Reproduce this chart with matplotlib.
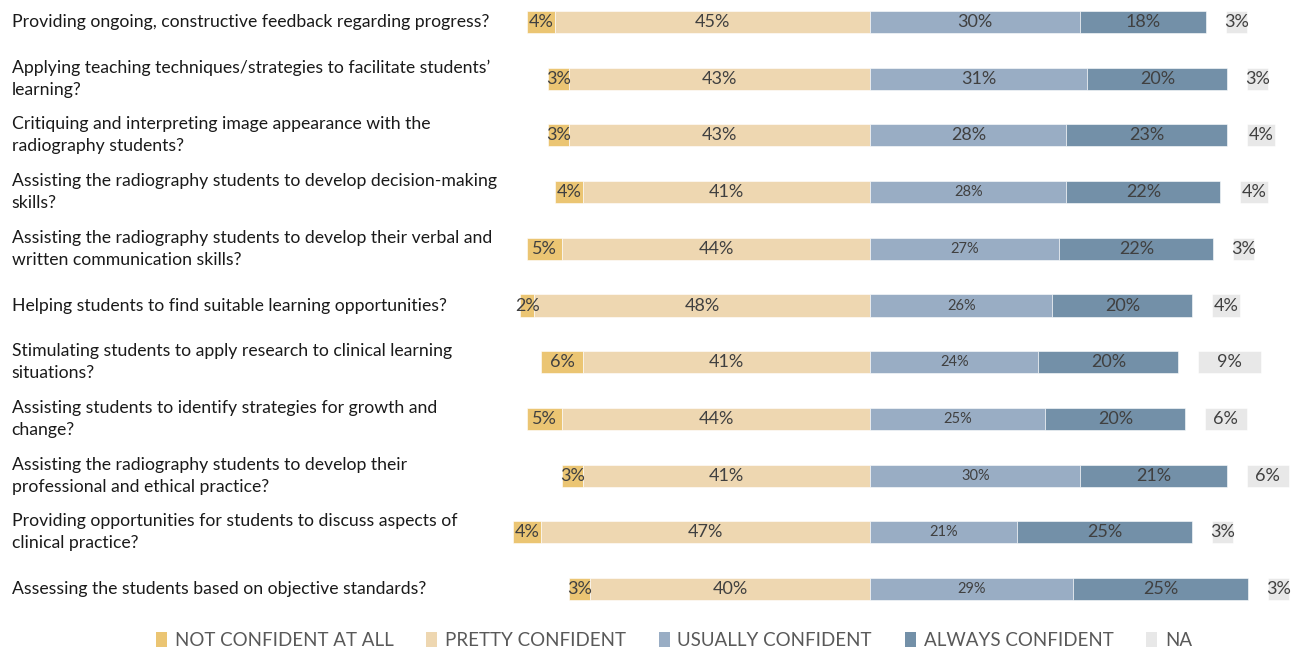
import matplotlib.pyplot as plt
import matplotlib.transforms as mtransforms
from matplotlib.patches import Patch

plt.rcParams['font.family'] = ['Lato', 'DejaVu Sans']

# survey items, top to bottom
questions = [
    "Providing ongoing, constructive feedback regarding progress?",
    "Applying teaching techniques/strategies to facilitate students\u2019\nlearning?",
    "Critiquing and interpreting image appearance with the\nradiography students?",
    "Assisting the radiography students to develop decision-making\nskills?",
    "Assisting the radiography students to develop their verbal and\nwritten communication skills?",
    "Helping students to find suitable learning opportunities?",
    "Stimulating students to apply research to clinical learning\nsituations?",
    "Assisting students to identify strategies for growth and\nchange?",
    "Assisting the radiography students to develop their\nprofessional and ethical practice?",
    "Providing opportunities for students to discuss aspects of\nclinical practice?",
    "Assessing the students based on objective standards?",
]

not_confident = [4, 3, 3, 4, 5, 2, 6, 5, 3, 4, 3]
pretty_confident = [45, 43, 43, 41, 44, 48, 41, 44, 41, 47, 40]
usually_confident = [30, 31, 28, 28, 27, 26, 24, 25, 30, 21, 29]
always_confident = [18, 20, 23, 22, 22, 20, 20, 20, 21, 25, 25]
na = [3, 3, 4, 4, 3, 4, 9, 6, 6, 3, 3]

legend_labels = ["NOT CONFIDENT AT ALL", "PRETTY CONFIDENT", "USUALLY CONFIDENT",
                 "ALWAYS CONFIDENT", "NA"]
colors = ["#EBC573", "#EED7B1", "#99ADC4", "#7390A8", "#E8E8E8"]

# the "usually" labels are smaller from row 4 down in the original
usually_fs = [13, 13, 13, 10.5, 10.5, 10.5, 10.5, 10.5, 10.5, 10.5, 10.5]

txt_color = "#404040"
bar_h = 0.39
na_gap = 2.8

fig = plt.figure(figsize=(12.91, 6.52), dpi=100)
ax = fig.add_axes([0.39, 0.0, 0.61, 1.0])

y = list(range(len(questions)))

for i in y:
    nc, pc = not_confident[i], pretty_confident[i]
    uc, ac, n = usually_confident[i], always_confident[i], na[i]
    segs = [
        (-(nc + pc), nc, colors[0], 13),
        (-pc, pc, colors[1], 13),
        (0, uc, colors[2], usually_fs[i]),
        (uc, ac, colors[3], 13),
        (uc + ac + na_gap, n, colors[4], 13),
    ]
    vals = [nc, pc, uc, ac, n]
    for (left, w, c, fs), v in zip(segs, vals):
        ax.barh(i, w, left=left, height=bar_h, color=c, edgecolor="white", linewidth=0.4)
        ax.text(left + w / 2, i, f"{v}%", ha="center", va="center",
                fontsize=fs, color=txt_color)

ax.set_xlim(-52.4, 60.1)
ax.set_ylim(11.111, -0.388)
ax.axis("off")

# question labels, left-aligned at the figure edge
trans = mtransforms.blended_transform_factory(fig.transFigure, ax.transData)
for i, q in enumerate(questions):
    ax.text(0.009, i, q, transform=trans, ha="left", va="center",
            fontsize=12.7, color="#1a1a1a", linespacing=1.45)

handles = [Patch(facecolor=c, edgecolor="none") for c in colors]
fig.legend(handles, legend_labels, loc="center", bbox_to_anchor=(0.522, 0.018),
           ncol=5, frameon=False, fontsize=13.5, labelcolor="#595959",
           handlelength=0.6, handleheight=0.9, handletextpad=0.4, columnspacing=1.75)

fig.savefig("out.png", dpi=100)
